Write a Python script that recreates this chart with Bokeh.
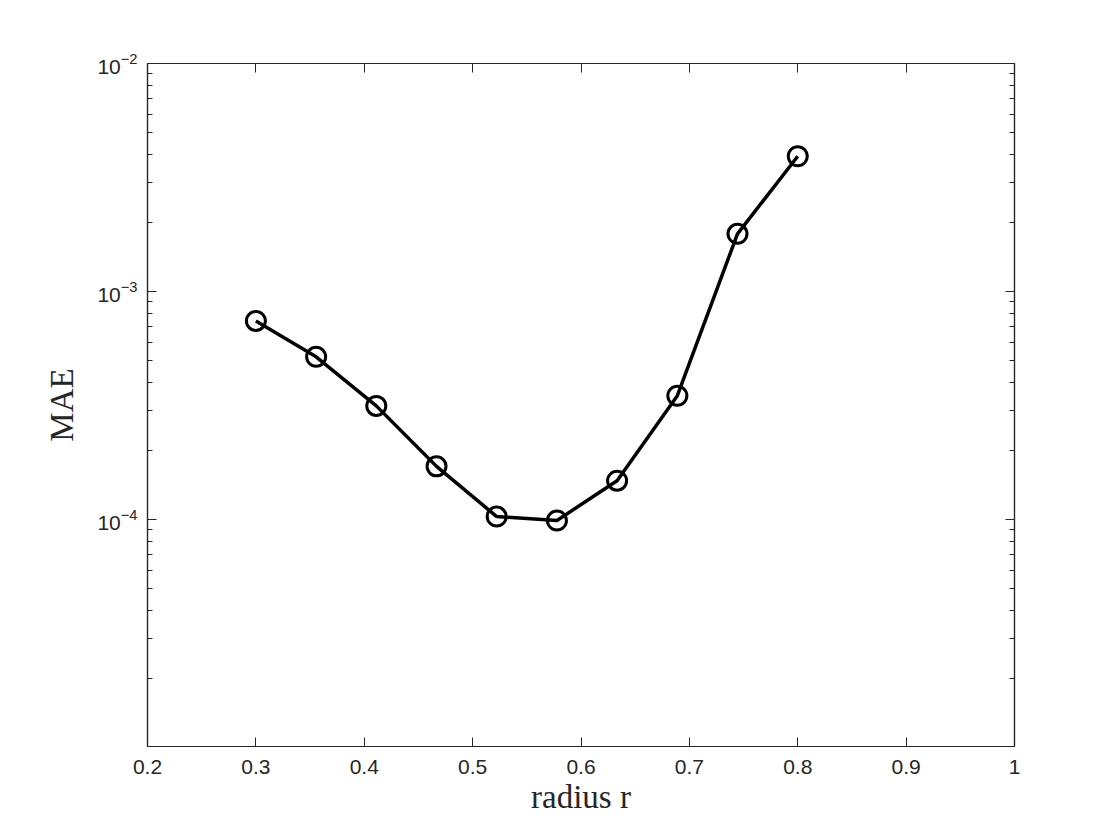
from bokeh.plotting import figure
from bokeh.models import LogAxis, LinearAxis, FixedTicker, Range1d, LogTickFormatter
from bokeh.embed import file_html
from bokeh.resources import INLINE

radius = [0.3, 0.3556, 0.4111, 0.4667, 0.5222, 0.5778, 0.6333, 0.6889, 0.7444, 0.8]
mae = [7.43e-4, 5.17e-4, 3.15e-4, 1.71e-4, 1.03e-4, 9.9e-5, 1.48e-4, 3.49e-4, 1.79e-3, 3.92e-3]

x_ticks = [0.2, 0.3, 0.4, 0.5, 0.6, 0.7, 0.8, 0.9, 1.0]
y_ticks = [1e-4, 1e-3, 1e-2]
y_minor = [k * 10.0 ** d for d in (-5, -4, -3) for k in range(2, 10)]

p = figure(width=1104, height=824, frame_width=867, frame_height=683,
           min_border_left=147, min_border_top=63, min_border_right=90, min_border_bottom=78,
           y_axis_type="log", x_range=Range1d(0.2, 1.0), y_range=Range1d(1.01e-5, 1e-2),
           output_backend="svg", toolbar_location=None)
p.background_fill_color = "white"
p.border_fill_color = "white"
p.outline_line_color = "#262626"
p.outline_line_width = 1.2
p.grid.visible = False

p.line(radius, mae, line_color="black", line_width=3.5)
p.scatter(radius, mae, marker="circle", size=19, fill_color=None, line_color="black", line_width=3)

xt = FixedTicker(ticks=x_ticks)
yt = FixedTicker(ticks=y_ticks, minor_ticks=y_minor)

def style(ax, labels=True):
    ax.axis_line_color = "#262626"
    ax.axis_line_width = 1.2
    ax.major_tick_in = 9
    ax.major_tick_out = 0
    ax.minor_tick_in = 5
    ax.minor_tick_out = 0
    ax.major_tick_line_color = "#262626"
    ax.minor_tick_line_color = "#262626"
    ax.major_label_text_font = "Liberation Sans"
    ax.major_label_text_font_size = "21px"
    ax.major_label_text_color = "#262626"
    if not labels:
        ax.major_label_text_font_size = "0px"
        ax.major_label_text_alpha = 0

xa = p.xaxis[0]
xa.ticker = xt
style(xa)
xa.minor_tick_line_color = None
xa.major_label_standoff = 13
xa.axis_label = "radius r"
xa.axis_label_text_font = "Liberation Serif"
xa.axis_label_text_font_style = "normal"
xa.axis_label_text_font_size = "33px"
xa.axis_label_text_color = "#262626"
xa.axis_label_standoff = 2

ya = p.yaxis[0]
ya.ticker = yt
ya.formatter = LogTickFormatter()
style(ya)
ya.major_label_standoff = 10
ya.axis_label = "MAE"
ya.axis_label_text_font = "Liberation Serif"
ya.axis_label_text_font_style = "normal"
ya.axis_label_text_font_size = "33px"
ya.axis_label_text_color = "#262626"
ya.axis_label_standoff = 14

top = LinearAxis(ticker=FixedTicker(ticks=x_ticks))
style(top, labels=False)
top.minor_tick_line_color = None
p.add_layout(top, "above")

right = LogAxis(ticker=FixedTicker(ticks=y_ticks, minor_ticks=y_minor))
style(right, labels=False)
p.add_layout(right, "right")

open("out.html", "w").write(file_html(p, INLINE))
